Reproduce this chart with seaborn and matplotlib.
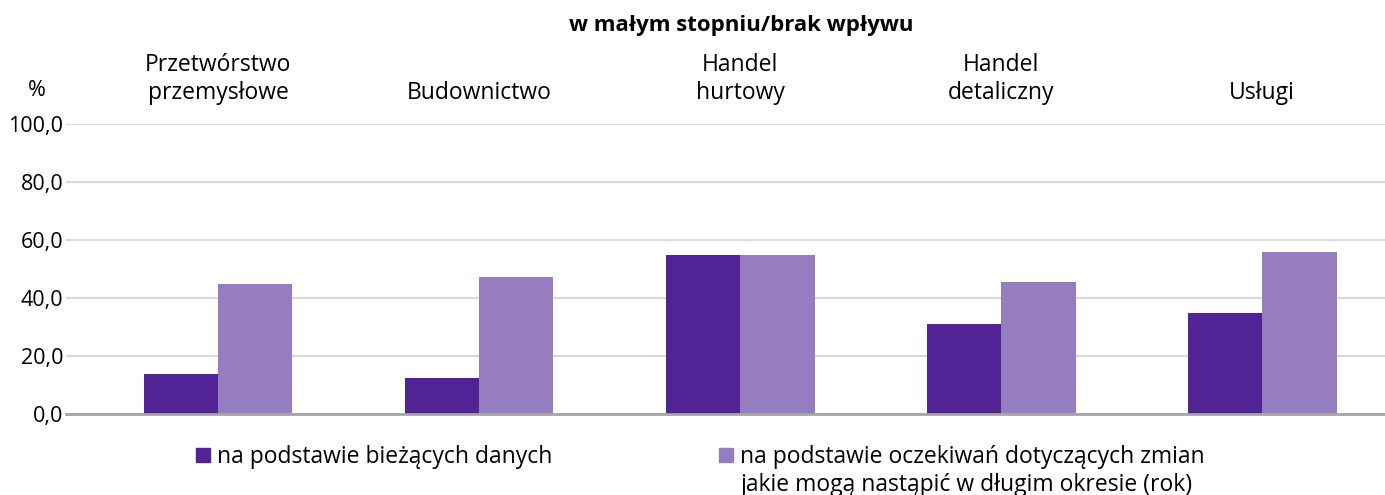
import pandas as pd
import matplotlib.pyplot as plt
import seaborn as sns
from matplotlib.patches import Patch
from matplotlib.ticker import FuncFormatter

# data
sectors = ["Przetwórstwo\nprzemysłowe", "Budownictwo", "Handel\nhurtowy",
           "Handel\ndetaliczny", "Usługi"]
current_data = [13.8, 12.5, 54.8, 31.1, 34.9]
expectations = [44.8, 47.2, 54.8, 45.6, 55.9]
series_names = ["na podstawie bieżących danych",
                "na podstawie oczekiwań dotyczących zmian",
                "jakie mogą nastąpić w długim okresie (rok)"]
yticks = [0, 20, 40, 60, 80, 100]
colors = ["#512395", "#967DC0"]

df = pd.DataFrame({
    "sector": sectors * 2,
    "value": current_data + expectations,
    "series": [series_names[0]] * len(sectors) + [series_names[1]] * len(sectors),
})

sns.set_style("white")
plt.rcParams["font.family"] = ["Open Sans", "DejaVu Sans"]
plt.rcParams["text.color"] = "black"
plt.rcParams["xtick.color"] = "black"
plt.rcParams["ytick.color"] = "black"

W, H = 1385, 495
fig = plt.figure(figsize=(W / 100, H / 100), dpi=100)
ax = fig.add_axes([66 / W, 1 - 414 / H, 1 - 66 / W, 290 / H])

sns.barplot(data=df, x="sector", y="value", hue="series", palette=colors,
            width=0.57, saturation=1, legend=False, linewidth=0, ax=ax)

ax.set_xlim(-0.582, 4.47)
ax.set_ylim(0, 100)
ax.set_yticks(yticks)
ax.yaxis.set_major_formatter(FuncFormatter(lambda v, p: f"{v:.1f}".replace(".", ",")))
ax.grid(axis="y", color="#d9d9d9", lw=1.5)
ax.set_axisbelow(True)
for s in ["left", "right", "top"]:
    ax.spines[s].set_visible(False)
ax.spines["bottom"].set_color("#a6a6a6")
ax.spines["bottom"].set_linewidth(2)
ax.set_xlabel("")
ax.set_ylabel("")

# sector names sit above the plot
ax.xaxis.tick_top()
ax.tick_params(axis="x", length=0, pad=14, labelsize=16.5, labelcolor="black")
ax.tick_params(axis="y", length=0, pad=2, labelsize=15.5, labelcolor="black")

fig.text(741 / W, 1 - 25 / H, "w małym stopniu/brak wpływu", ha="center", va="center",
         fontsize=16, fontweight="bold")
fig.text(37 / W, 1 - 90 / H, "%", ha="center", va="center", fontsize=15.5)

handles = [Patch(color=c) for c in colors]
legend_kw = dict(loc="center left", frameon=False, fontsize=16.5, handlelength=0.6,
                 handleheight=0.6, handletextpad=0.3, borderpad=0, borderaxespad=0)
fig.legend(handles[:1], series_names[:1], bbox_to_anchor=(196 / W, 1 - 457 / H), **legend_kw)
fig.legend(handles[1:], series_names[1:2], bbox_to_anchor=(719 / W, 1 - 457 / H), **legend_kw)
fig.text(740 / W, 1 - 485 / H, series_names[2], ha="left", va="center", fontsize=16.5)

fig.savefig("out.png", dpi=100)
